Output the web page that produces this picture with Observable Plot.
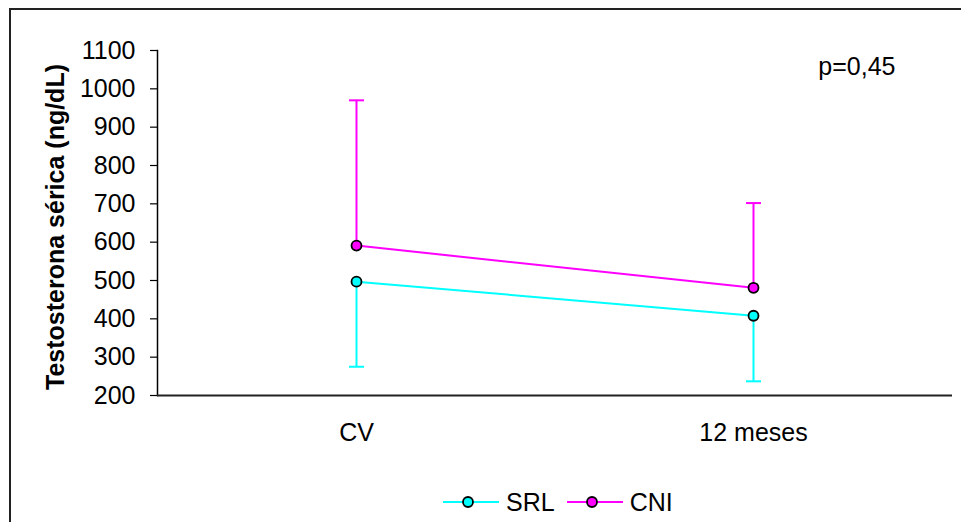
<!DOCTYPE html>
<html>
<head>
<meta charset="utf-8">
<script src="https://cdn.jsdelivr.net/npm/d3@7"></script>
<script src="https://cdn.jsdelivr.net/npm/@observablehq/plot@0.6"></script>
<style>
  html, body { margin: 0; padding: 0; background: #fff; overflow: hidden; width: 961px; height: 522px; }
  body { position: relative; font-family: "Liberation Sans", Arial, sans-serif; }
  #frame { position: absolute; left: 9px; top: 8px; width: 1200px; height: 800px; border-top: 2px solid #222; border-left: 2px solid #222; box-sizing: border-box; }
  #chart { position: absolute; left: 0; top: 0; }
  #legend { position: absolute; left: 443px; top: 490px; height: 24px; display: flex; align-items: center; font-size: 25px; color: #000; }
  #legend .item { display: flex; align-items: center; }
  #legend .item span { margin-left: 7px; margin-right: 12px; line-height: 24px; }
</style>
</head>
<body>
<div id="frame"></div>
<div id="chart"></div>
<div id="legend"></div>
<script>
// ---- Data ----
const categories = ["CV", "12 meses"];
const seriesNames = ["SRL", "CNI"];
const seriesColors = ["#00FFFF", "#FF00FF"];
const srlMean = [497, 408];
const srlLower = [275, 237];   // mean - SD (error bar drawn downward)
const cniMean = [591, 481];
const cniUpper = [970, 702];   // mean + SD (error bar drawn upward)
const yTicks = [200, 300, 400, 500, 600, 700, 800, 900, 1000, 1100];
const yTitle = "Testosterona sérica (ng/dL)";
const pText = "p=0,45";

// ---- Tables built from the arrays ----
const points = [
  ...categories.map((c, i) => ({cat: c, series: "SRL", v: srlMean[i], end: srlLower[i]})),
  ...categories.map((c, i) => ({cat: c, series: "CNI", v: cniMean[i], end: cniUpper[i]}))
];
const color = s => seriesColors[seriesNames.indexOf(s)];

// horizontal cap symbol for the error bars
const capSymbol = {draw(ctx) { ctx.moveTo(-7.5, 0); ctx.lineTo(7.5, 0); }};

const chart = Plot.plot({
  width: 961,
  height: 522,
  marginLeft: 157,
  marginRight: 9,
  marginTop: 50,
  marginBottom: 127,
  style: {fontFamily: "Liberation Sans, Arial, sans-serif", fontSize: "25px", color: "#000", background: "transparent", overflow: "visible"},
  x: {type: "point", domain: categories, padding: 0.5, label: null},
  y: {domain: [200, 1100], label: null},
  marks: [
    Plot.axisY({ticks: yTicks, tickFormat: d3.format("d"), tickSize: 7, tickPadding: 15, label: null, stroke: "#000", strokeWidth: 1.2, fontSize: 25}),
    Plot.axisX({tickSize: 0, tickPadding: 28, label: null, fontSize: 25}),
    Plot.frame({anchor: "left", stroke: "#000", strokeWidth: 1.5}),
    Plot.ruleY([200], {stroke: "#222", strokeWidth: 2}),
    // error bars
    Plot.ruleX(points, {x: "cat", y1: "v", y2: "end", stroke: d => color(d.series), strokeWidth: 2}),
    Plot.dot(points, {x: "cat", y: "end", symbol: capSymbol, fill: "none", stroke: d => color(d.series), strokeWidth: 2}),
    // lines
    Plot.line(points, {x: "cat", y: "v", z: "series", stroke: d => color(d.series), strokeWidth: 2}),
    // markers
    Plot.dot(points, {x: "cat", y: "v", r: 5, fill: d => color(d.series), stroke: "#000", strokeWidth: 1.8}),
    // y title
    Plot.text([yTitle], {frameAnchor: "left", textAnchor: "middle", lineAnchor: "middle", rotate: -90, dx: -102, dy: 4, fontWeight: "bold", fontSize: 25, fill: "#000"}),
    // p value annotation
    Plot.text([pText], {frameAnchor: "top-right", textAnchor: "end", dx: -57, dy: 7, fontSize: 25, fill: "#000"})
  ]
});
document.getElementById("chart").appendChild(chart);

// ---- Legend ----
const legend = document.getElementById("legend");
seriesNames.forEach((name, i) => {
  const item = document.createElement("div");
  item.className = "item";
  item.innerHTML = `<svg width="56" height="24" viewBox="0 0 56 24">
    <line x1="0" y1="12" x2="56" y2="12" stroke="${seriesColors[i]}" stroke-width="2"/>
    <circle cx="25" cy="12" r="5" fill="${seriesColors[i]}" stroke="#000" stroke-width="1.8"/>
  </svg><span>${name}</span>`;
  legend.appendChild(item);
});
</script>
</body>
</html>
